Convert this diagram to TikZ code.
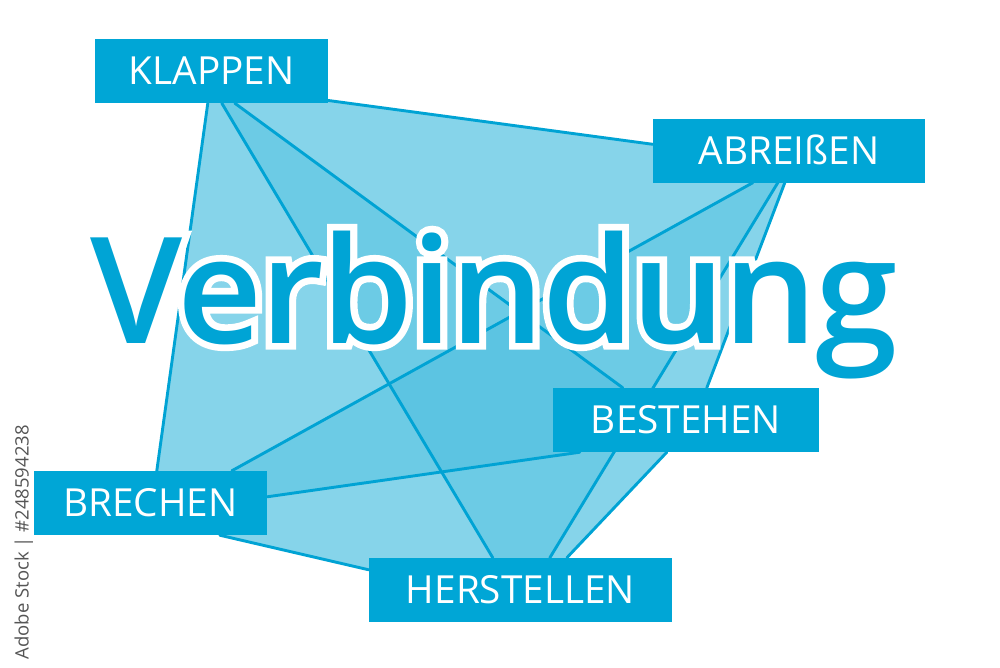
\documentclass[tikz,border=0pt]{standalone}
\usepackage{fontspec}
\usetikzlibrary{calc,fadings}
\setmainfont{Open Sans}
\IfFontExistsTF{Open Sans Semibold}{%
  \newfontfamily\vfont{Open Sans Semibold}[LetterSpace=-1.6]%
  \newfontfamily\vfontout{Open Sans Semibold}[LetterSpace=-1.6,FakeBold=9]%
}{\IfFontExistsTF{Open Sans SemiBold}{%
  \newfontfamily\vfont{Open Sans SemiBold}[LetterSpace=-1.6]%
  \newfontfamily\vfontout{Open Sans SemiBold}[LetterSpace=-1.6,FakeBold=9]%
}{%
  \newfontfamily\vfont{Open Sans Bold}[LetterSpace=-1.6]%
  \newfontfamily\vfontout{Open Sans Bold}[LetterSpace=-1.6,FakeBold=9]%
}}
\definecolor{boxc}{RGB}{0,166,214}
\definecolor{linec}{RGB}{0,163,212}
\definecolor{lightc}{RGB}{134,212,234}
\definecolor{medc}{RGB}{108,203,229}
\definecolor{darkc}{RGB}{92,196,226}
\definecolor{vtop}{RGB}{0,164,213}
\definecolor{vmid}{RGB}{40,178,220}
\definecolor{vlow}{RGB}{120,208,232}
\definecolor{wmgray}{RGB}{85,85,85}
\pgfdeclareverticalshading{vshade}{100bp}{color(0bp)=(vlow); color(43bp)=(vlow); color(50bp)=(vmid); color(56bp)=(vtop); color(100bp)=(vtop)}
\pgfdeclarelayer{bg}
\pgfsetlayers{bg,main}
\newcommand\vtsize{\fontsize{148}{158}\selectfont}
\begin{tikzfadingfrompicture}[name=vfade]
  \path (-440pt,-130pt) rectangle (440pt,130pt);
  \node[font=\vfont\vtsize, text=transparent!0, anchor=base, inner sep=0pt] (vf) at (0pt,0pt) {Verbindung};
\end{tikzfadingfrompicture}
\begin{document}
\begin{tikzpicture}[x=1pt,y=-1pt,
  lbl/.style={fill=boxc, text=white, font=\fontsize{38.7}{40}\selectfont,
    minimum height=64, inner sep=0pt, text height=27.6pt, text depth=0pt},
  conn/.style={draw=linec, line width=2.9, line cap=round},
  vtxt/.style={font=\vfont\vtsize, anchor=base, inner sep=0pt}]
\useasboundingbox (0,0) rectangle (1000,667);
% label boxes
\node[lbl, minimum width=233] (klappen) at (211.5,71) {KLAPPEN};
\node[lbl, minimum width=272] (abr) at (789,150.5) {ABREIßEN};
\node[lbl, minimum width=266] (bes) at (686,420) {BESTEHEN};
\node[lbl, minimum width=233] (bre) at (150.5,503) {BRECHEN};
\node[lbl, minimum width=303] (her) at (520.5,590) {HERSTELLEN};
% anchor points on the boxes
\coordinate (k1) at ($(klappen.south west)+(113,0)$);
\coordinate (k2) at ($(klappen.south west)+(127,0)$);
\coordinate (k3) at ($(klappen.south west)+(140,0)$);
\coordinate (k4) at ($(klappen.south east)+(-2,-3)$);
\coordinate (a4) at ($(abr.north west)+(0,26)$);
\coordinate (a5) at ($(abr.south west)+(100,0)$);
\coordinate (a6) at ($(abr.south west)+(125,0)$);
\coordinate (a7) at ($(abr.south west)+(132,0)$);
\coordinate (b3) at ($(bes.north west)+(70,0)$);
\coordinate (b7) at ($(bes.north west)+(154,0)$);
\coordinate (b8) at ($(bes.south west)+(114,0)$);
\coordinate (b9) at ($(bes.south west)+(27,0)$);
\coordinate (r1) at ($(bre.north west)+(123,0)$);
\coordinate (r5) at ($(bre.north west)+(198,0)$);
\coordinate (r9) at ($(bre.north east)+(0,26)$);
\coordinate (r10) at ($(bre.south west)+(186,0)$);
\coordinate (h2) at ($(her.north west)+(124,0)$);
\coordinate (h6) at ($(her.north west)+(181,0)$);
\coordinate (h8) at ($(her.north west)+(198,0)$);
\coordinate (h10) at ($(her.north west)+(0,12)$);
\begin{pgfonlayer}{bg}
  \fill[white] (0,0) rectangle (1000,667);
  \fill[lightc] (k1) -- (k4) -- (a4) -- (a7) -- (b7) -- (b8) -- (h8) -- (h10) -- (r10) -- (r1) -- cycle;
  \fill[darkc] (k2) -- (h2) -- (h6) -- (a6) -- (a5) -- (r5) -- (r9) -- (b9) -- (b3) -- (k3) -- cycle;
  \fill[medc, even odd rule] (k2) -- (h2) -- (h6) -- (a6) -- (a5) -- (r5) -- (r9) -- (b9) -- (b3) -- (k3) -- cycle;
  \draw[conn] (k1) -- (r1);
  \draw[conn] (k2) -- (h2);
  \draw[conn] (k3) -- (b3);
  \draw[conn] (k4) -- (a4);
  \draw[conn] (a5) -- (r5);
  \draw[conn] (a6) -- (h6);
  \draw[conn] (a7) -- (b7);
  \draw[conn] (b8) -- (h8);
  \draw[conn] (r9) -- (b9);
  \draw[conn] (r10) -- (h10);
\end{pgfonlayer}
% title
\node[vtxt, font=\vfontout\vtsize, text=white] (vout) at (494,343) {Verbindung};
\node[vtxt, text=vtop] (vword) at (494,343) {Verbindung};
\begin{scope}[shift={(494,343)}]
  \path[shading=vshade, path fading=vfade, fit fading=false] (-440,-130) rectangle (440,130);
\end{scope}
% stock id
\node[rotate=90, anchor=east, text=wmgray, font=\fontsize{18.5}{20}\selectfont,
  inner sep=0pt, text height=13.2pt, text depth=0pt] (wm) at (22,425) {Adobe Stock | \#248594238};
\end{tikzpicture}
\end{document}
